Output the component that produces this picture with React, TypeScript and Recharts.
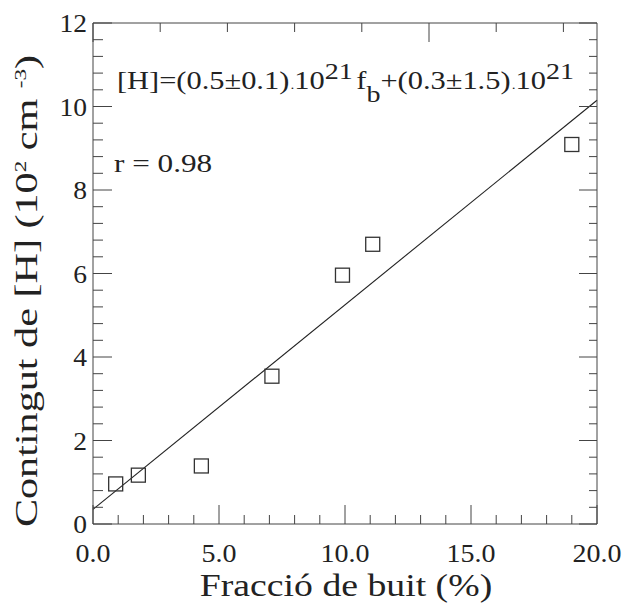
import React from 'react';
import { ComposedChart, Scatter, XAxis, YAxis, ReferenceLine } from 'recharts';

// ---- data ----
const voidFraction = [0.9, 1.8, 4.3, 7.1, 9.9, 11.1, 19.0];
const hContent = [0.96, 1.17, 1.39, 3.54, 5.96, 6.7, 9.09];
const fitX = [0, 20];
const fitY = [0.35, 10.15];

const xMajorTicks = [0, 5, 10, 15, 20];
const xTickLabels = ['0.0', '5.0', '10.0', '15.0', '20.0'];
const yMajorTicks = [0, 2, 4, 6, 8, 10, 12];
const yTickLabels = ['0', '2', '4', '6', '8', '10', '12'];
const topMajorTicks = [0, 4, 8, 12, 16, 20];

const range = (a: number, b: number, step: number) => {
  const out: number[] = [];
  const n = Math.round((b - a) / step);
  for (let i = 0; i <= n; i++) out.push(Math.round((a + i * step) * 1000) / 1000);
  return out;
};
const xAllTicks = range(0, 20, 1);
const topAllTicks = range(0, 20, 0.8);
const yAllTicks = range(0, 12, 0.4);

const points = voidFraction.map((x, i) => ({ x, y: hContent[i] }));

const FONT = '"Liberation Serif", "Times New Roman", serif';
const TXT = '#222';
const AX = '#444';
const MAJ = 19;
const MIN = 9;

const isIn = (arr: number[], v: number) => arr.some((a) => Math.abs(a - v) < 1e-6);

const BottomTick = (p: any) => {
  const { x, y, payload } = p;
  const v = payload.value;
  const major = isIn(xMajorTicks, v);
  const idx = xMajorTicks.findIndex((m) => Math.abs(m - v) < 1e-6);
  return (
    <g>
      <line x1={x} y1={y} x2={x} y2={y - (major ? MAJ : MIN)} stroke={AX} strokeWidth={1} />
      {major && (
        <g transform={`translate(${x},${y + 38}) scale(1.12,1)`}>
          <text x={0} y={0} textAnchor="middle" fontFamily={FONT} fontSize={25} fill={TXT}>
            {xTickLabels[idx]}
          </text>
        </g>
      )}
    </g>
  );
};

const TopTick = (p: any) => {
  const { x, y, payload } = p;
  const major = isIn(topMajorTicks, payload.value);
  return <line x1={x} y1={y} x2={x} y2={y + (major ? MAJ : MIN)} stroke={AX} strokeWidth={1} />;
};

const LeftTick = (p: any) => {
  const { x, y, payload } = p;
  const v = payload.value;
  const major = isIn(yMajorTicks, v);
  const idx = yMajorTicks.findIndex((m) => Math.abs(m - v) < 1e-6);
  return (
    <g>
      <line x1={x} y1={y} x2={x + (major ? MAJ : MIN + 1)} y2={y} stroke={AX} strokeWidth={1} />
      {major && (
        <g transform={`translate(${x - 6},${y + 9}) scale(1.1,1)`}>
          <text x={0} y={0} textAnchor="end" fontFamily={FONT} fontSize={25} fill={TXT}>
            {yTickLabels[idx]}
          </text>
        </g>
      )}
    </g>
  );
};

const RightTick = (p: any) => {
  const { x, y, payload } = p;
  const major = isIn(yMajorTicks, payload.value);
  return <line x1={x} y1={y} x2={x - (major ? 18 : 8)} y2={y} stroke={AX} strokeWidth={1} />;
};

const SquareShape = (p: any) => {
  const { cx, cy } = p;
  const s = 14;
  return <rect x={cx - s / 2} y={cy - s / 2} width={s} height={s} fill="none" stroke="#333" strokeWidth={1.3} />;
};

export default function App() {
  return (
    <div style={{ position: 'absolute', left: 0, top: 0, width: 623, height: 605, background: '#fff' }}>
      <ComposedChart
        width={623}
        height={605}
        data={points}
        margin={{ top: 13, right: 16, bottom: 41, left: 33 }}
      >
        <XAxis
          xAxisId="b"
          dataKey="x"
          type="number"
          domain={[0, 20]}
          ticks={xAllTicks}
          interval={0}
          height={40}
          tickSize={0}
          tickMargin={0}
          tickLine={false}
          axisLine={{ stroke: AX, strokeWidth: 1 }}
          tick={BottomTick}
          allowDataOverflow
        />
        <XAxis
          xAxisId="t"
          orientation="top"
          type="number"
          domain={[0, 20]}
          ticks={topAllTicks}
          interval={0}
          height={10}
          tickSize={0}
          tickMargin={0}
          tickLine={false}
          axisLine={{ stroke: AX, strokeWidth: 1 }}
          tick={TopTick}
          allowDataOverflow
        />
        <YAxis
          yAxisId="l"
          dataKey="y"
          type="number"
          domain={[0, 12]}
          ticks={yAllTicks}
          interval={0}
          width={60}
          tickSize={0}
          tickMargin={0}
          tickLine={false}
          axisLine={{ stroke: AX, strokeWidth: 1 }}
          tick={LeftTick}
          allowDataOverflow
        />
        <YAxis
          yAxisId="r"
          orientation="right"
          type="number"
          domain={[0, 12]}
          ticks={yAllTicks}
          interval={0}
          width={10}
          tickSize={0}
          tickMargin={0}
          tickLine={false}
          axisLine={{ stroke: AX, strokeWidth: 1 }}
          tick={RightTick}
          allowDataOverflow
        />
        <ReferenceLine
          xAxisId="b"
          yAxisId="l"
          segment={[
            { x: fitX[0], y: fitY[0] },
            { x: fitX[1], y: fitY[1] },
          ]}
          stroke="#222"
          strokeWidth={1.1}
        />
        <Scatter
          xAxisId="b"
          yAxisId="l"
          data={points}
          dataKey="y"
          shape={SquareShape}
          isAnimationActive={false}
        />
        <Scatter
          xAxisId="t"
          yAxisId="r"
          data={points}
          dataKey="y"
          shape={() => <g />}
          isAnimationActive={false}
        />
      </ComposedChart>
      <svg
        width={623}
        height={605}
        style={{ position: 'absolute', left: 0, top: 0, pointerEvents: 'none' }}
      >
        <g transform="translate(117,89) scale(1.17,1)">
          <text x={0} y={0} fontFamily={FONT} fontSize={26} fill={TXT}>
            <tspan>[H]=(0.5±0.1)</tspan>
            <tspan fontSize={13} dx={1}>.</tspan>
            <tspan>10</tspan>
            <tspan dy={-10} fontSize={24}>21</tspan>
            <tspan dy={10} dx={3}>f</tspan>
            <tspan dy={13} fontSize={24}>b</tspan>
            <tspan dy={-13}>+(0.3±1.5)</tspan>
            <tspan fontSize={13} dx={1}>.</tspan>
            <tspan>10</tspan>
            <tspan dy={-10} fontSize={24}>21</tspan>
          </text>
        </g>
        <g transform="translate(114,172) scale(1.2,1)">
          <text x={0} y={0} fontFamily={FONT} fontSize={26} fill={TXT}>
            r = 0.98
          </text>
        </g>
        <g transform="translate(346,596) scale(1.18,1)">
          <text x={0} y={0} textAnchor="middle" fontFamily={FONT} fontSize={32} fill={TXT}>
            Fracció de buit (%)
          </text>
        </g>
        <g transform="translate(37,291) rotate(-90) scale(1.36,1)">
          <text x={0} y={0} textAnchor="middle" fontFamily={FONT} fontSize={31} fill={TXT}>
            <tspan>Contingut de [H] (10</tspan>
            <tspan dy={-11} fontSize={17}>2</tspan>
            <tspan dy={11}> cm </tspan>
            <tspan dy={-11} fontSize={17}>-3</tspan>
            <tspan dy={11}>)</tspan>
          </text>
        </g>
      </svg>
    </div>
  );
}
